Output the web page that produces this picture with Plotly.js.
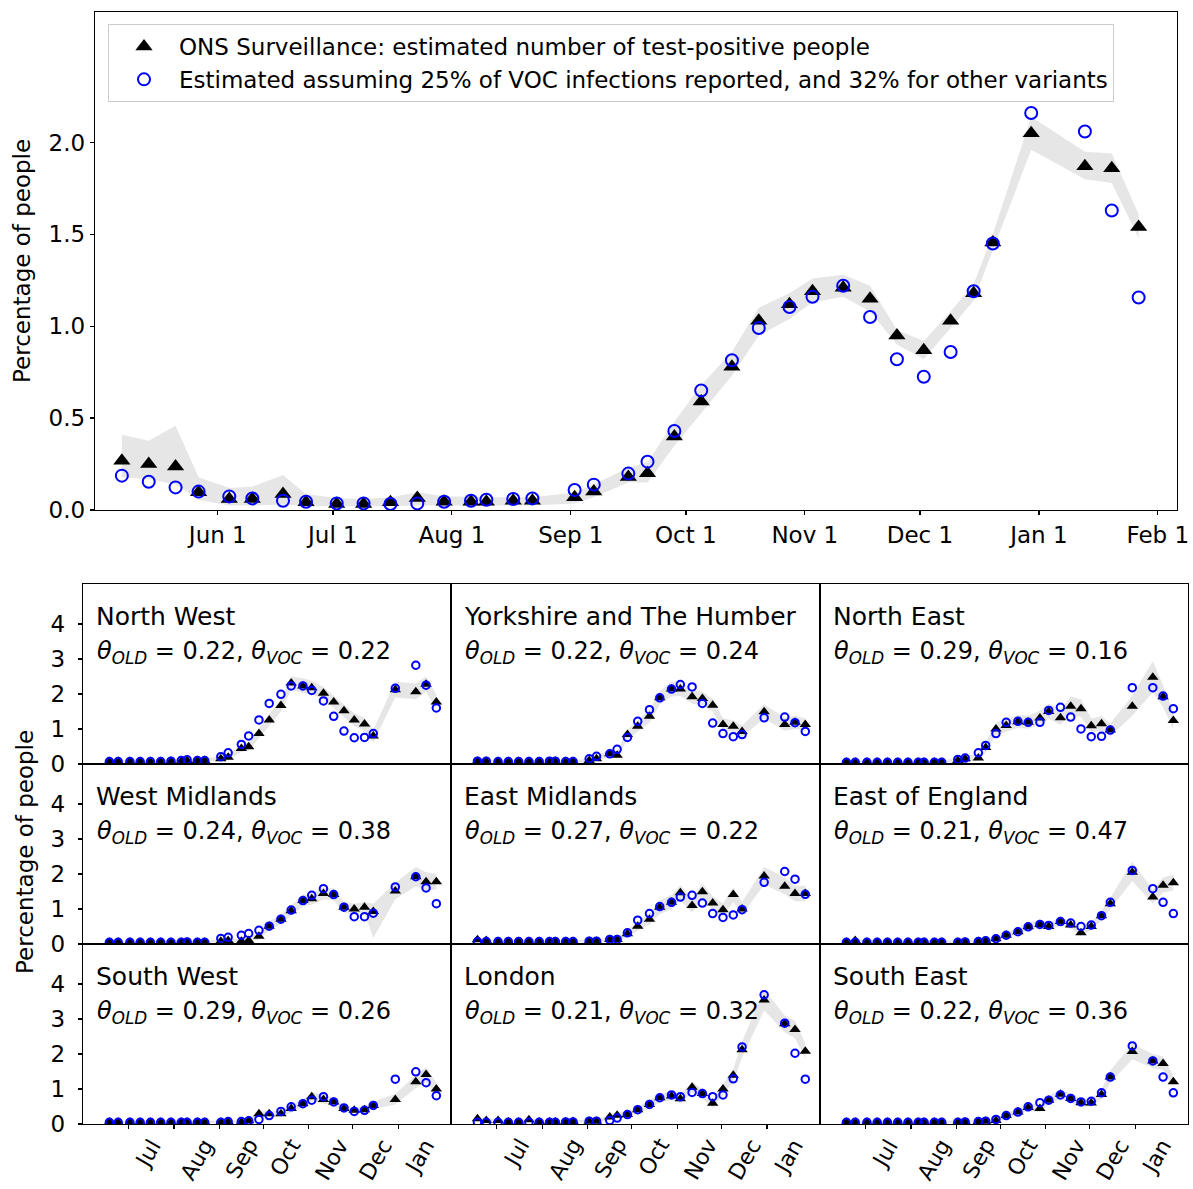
<!DOCTYPE html>
<html><head><meta charset="utf-8">
<script src="https://cdn.plot.ly/plotly-3.0.1.min.js"></script>
<style>body{margin:0;padding:0;background:#fff}#chart{width:1193px;height:1189px}</style>
</head><body><div id="chart"></div>
<script>
// ---------- National (top panel) ----------
const natDates = ["2020-05-07","2020-05-14","2020-05-21","2020-05-27","2020-06-04","2020-06-10","2020-06-18","2020-06-24","2020-07-02","2020-07-09","2020-07-16","2020-07-23","2020-07-30","2020-08-06","2020-08-10","2020-08-17","2020-08-22","2020-09-02","2020-09-07","2020-09-16","2020-09-21","2020-09-28","2020-10-05","2020-10-13","2020-10-20","2020-10-28","2020-11-03","2020-11-11","2020-11-18","2020-11-25","2020-12-02","2020-12-09","2020-12-15","2020-12-20","2020-12-30","2021-01-13","2021-01-20","2021-01-27"];
const natONS = [0.268,0.25,0.237,0.096,0.06,0.06,0.087,0.042,0.033,0.033,0.042,0.065,0.045,0.045,0.045,0.05,0.05,0.069,0.1,0.18,0.2,0.40,0.59,0.78,1.03,1.12,1.19,1.21,1.15,0.95,0.87,1.03,1.18,1.455,2.05,1.87,1.86,1.54];
const natEst = [0.187,0.154,0.123,0.10,0.074,0.063,0.05,0.045,0.036,0.036,0.033,0.036,0.045,0.05,0.056,0.06,0.063,0.109,0.138,0.198,0.263,0.43,0.65,0.815,0.99,1.105,1.16,1.22,1.05,0.82,0.725,0.86,1.19,1.45,2.16,2.06,1.63,1.156];
const natHi = [0.41,0.377,0.458,0.178,0.12,0.127,0.19,0.087,0.065,0.06,0.07,0.096,0.075,0.07,0.07,0.07,0.07,0.095,0.14,0.23,0.26,0.48,0.68,0.86,1.10,1.18,1.26,1.28,1.22,0.98,0.92,1.08,1.23,1.5,2.14,1.95,1.94,1.61];
const natLo = [0.178,0.168,0.14,0.056,0.024,0.024,0.03,0.02,0.02,0.02,0.02,0.025,0.025,0.025,0.025,0.025,0.025,0.036,0.07,0.15,0.15,0.35,0.53,0.73,0.95,1.04,1.13,1.16,1.08,0.90,0.82,0.99,1.14,1.42,1.96,1.80,1.78,1.48];
const topTickVals = ["2020-06-01","2020-07-01","2020-08-01","2020-09-01","2020-10-01","2020-11-01","2020-12-01","2021-01-01","2021-02-01"];
const topTickText = ["Jun 1","Jul 1","Aug 1","Sep 1","Oct 1","Nov 1","Dec 1","Jan 1","Feb 1"];

// ---------- Regional panels ----------
const regDates = ["2020-06-18","2020-06-24","2020-07-02","2020-07-09","2020-07-16","2020-07-23","2020-07-30","2020-08-06","2020-08-10","2020-08-17","2020-08-22","2020-09-02","2020-09-07","2020-09-16","2020-09-21","2020-09-28","2020-10-05","2020-10-13","2020-10-20","2020-10-28","2020-11-03","2020-11-11","2020-11-18","2020-11-25","2020-12-02","2020-12-09","2020-12-15","2020-12-30","2021-01-13","2021-01-20","2021-01-27"];
const monthTickVals = ["2020-07-01","2020-08-01","2020-09-01","2020-10-01","2020-11-01","2020-12-01","2021-01-01"];
const monthTickText = ["Jul","Aug","Sep","Oct","Nov","Dec","Jan"];

const regionNames = ["North West","Yorkshire and The Humber","North East","West Midlands","East Midlands","East of England","South West","London","South East"];
const thetaOld = ["0.22","0.22","0.29","0.24","0.27","0.21","0.29","0.21","0.22"];
const thetaVoc = ["0.22","0.24","0.16","0.38","0.22","0.47","0.26","0.32","0.36"];

const nwONS = [0.07,0.07,0.07,0.07,0.07,0.07,0.08,0.08,0.1,0.1,0.1,0.15,0.19,0.44,0.49,0.87,1.26,1.67,2.31,2.23,2.18,2.02,1.77,1.52,1.26,1.14,0.8,2.12,2.06,2.28,1.77];
const nwEst = [0.07,0.07,0.07,0.07,0.07,0.07,0.08,0.1,0.12,0.1,0.1,0.21,0.32,0.56,0.8,1.26,1.73,1.99,2.23,2.23,2.1,1.8,1.36,0.94,0.75,0.76,0.87,2.16,2.82,2.25,1.6];
const nwHi = [0.12,0.11,0.11,0.11,0.11,0.11,0.12,0.13,0.15,0.15,0.16,0.22,0.28,0.55,0.62,1.0,1.42,1.85,2.5,2.45,2.38,2.2,1.95,1.7,1.45,1.32,0.98,2.35,2.3,2.5,1.98];
const nwLo = [0.03,0.03,0.03,0.03,0.03,0.03,0.04,0.04,0.05,0.05,0.05,0.09,0.12,0.34,0.38,0.74,1.1,1.5,2.12,2.03,2.0,1.85,1.6,1.35,1.08,0.96,0.62,1.9,1.85,2.06,1.56];

const yhONS = [0.08,0.08,0.07,0.07,0.07,0.07,0.07,0.07,0.08,0.07,0.07,0.1,0.15,0.29,0.25,0.84,1.08,1.36,1.89,2.14,2.14,1.92,1.87,1.68,1.13,1.08,0.93,1.49,1.13,1.19,1.13];
const yhEst = [0.08,0.08,0.07,0.07,0.07,0.07,0.07,0.08,0.08,0.07,0.07,0.15,0.22,0.29,0.42,0.76,1.22,1.55,1.89,2.14,2.27,2.2,1.73,1.17,0.87,0.78,0.84,1.32,1.34,1.18,0.93];
const yhHi = [0.12,0.12,0.11,0.11,0.11,0.11,0.11,0.11,0.12,0.11,0.11,0.16,0.22,0.4,0.36,0.98,1.25,1.55,2.08,2.35,2.35,2.12,2.06,1.86,1.3,1.25,1.1,1.7,1.32,1.38,1.3];
const yhLo = [0.04,0.04,0.03,0.03,0.03,0.03,0.03,0.03,0.04,0.03,0.03,0.05,0.09,0.2,0.16,0.7,0.92,1.18,1.7,1.93,1.94,1.72,1.68,1.5,0.96,0.92,0.77,1.3,0.95,1.0,0.96];

const neONS = [0.05,0.05,0.05,0.05,0.05,0.05,0.05,0.05,0.05,0.05,0.05,0.1,0.15,0.17,0.47,1.0,1.1,1.21,1.19,1.31,1.5,1.32,1.65,1.58,1.09,1.15,0.97,1.65,2.48,1.92,1.24];
const neEst = [0.05,0.05,0.05,0.05,0.05,0.05,0.05,0.05,0.05,0.05,0.05,0.13,0.17,0.32,0.53,0.87,1.19,1.22,1.19,1.19,1.53,1.62,1.34,1.0,0.78,0.79,0.97,2.18,2.18,1.94,1.58];
const neHi = [0.09,0.09,0.09,0.09,0.09,0.09,0.09,0.09,0.09,0.09,0.09,0.17,0.24,0.28,0.62,1.18,1.28,1.4,1.38,1.52,1.73,1.55,1.93,1.85,1.3,1.36,1.16,1.95,2.94,2.25,1.5];
const neLo = [0.02,0.02,0.02,0.02,0.02,0.02,0.02,0.02,0.02,0.02,0.02,0.05,0.08,0.09,0.33,0.83,0.92,1.03,1.01,1.12,1.29,1.12,1.4,1.34,0.9,0.95,0.8,1.38,2.05,1.62,1.0];

const wmONS = [0.05,0.05,0.05,0.05,0.05,0.05,0.05,0.05,0.06,0.05,0.05,0.08,0.1,0.08,0.1,0.22,0.51,0.71,0.95,1.24,1.29,1.44,1.41,1.05,1.0,1.05,0.93,1.51,1.92,1.78,1.78];
const wmEst = [0.05,0.05,0.05,0.05,0.05,0.05,0.05,0.05,0.06,0.05,0.05,0.16,0.19,0.25,0.3,0.39,0.51,0.71,0.97,1.24,1.39,1.58,1.41,1.05,0.78,0.78,0.88,1.63,1.92,1.6,1.15];
const wmHi = [0.09,0.09,0.09,0.09,0.09,0.09,0.09,0.09,0.1,0.09,0.09,0.13,0.16,0.14,0.17,0.32,0.64,0.85,1.1,1.4,1.46,1.62,1.58,1.2,1.15,1.2,1.15,1.75,2.2,2.05,2.0];
const wmLo = [0.02,0.02,0.02,0.02,0.02,0.02,0.02,0.02,0.03,0.02,0.02,0.04,0.05,0.04,0.05,0.13,0.39,0.57,0.8,1.08,1.12,1.27,1.24,0.9,0.86,0.9,0.17,1.28,1.65,1.52,1.56];

const emONS = [0.12,0.1,0.07,0.07,0.07,0.07,0.07,0.07,0.07,0.07,0.07,0.08,0.08,0.13,0.13,0.29,0.51,0.71,1.05,1.19,1.46,1.1,1.49,1.17,0.98,1.41,1.0,1.94,1.65,1.44,1.44];
const emEst = [0.07,0.07,0.07,0.07,0.07,0.07,0.07,0.07,0.07,0.07,0.07,0.08,0.08,0.13,0.13,0.32,0.68,0.87,1.07,1.19,1.34,1.39,1.17,0.87,0.76,0.83,0.98,1.76,2.07,1.85,1.42];
const emHi = [0.17,0.14,0.11,0.11,0.11,0.11,0.11,0.11,0.11,0.11,0.11,0.12,0.12,0.19,0.19,0.4,0.65,0.87,1.25,1.4,1.68,1.3,1.72,1.37,1.16,1.62,1.2,2.2,1.9,1.66,1.66];
const emLo = [0.07,0.06,0.03,0.03,0.03,0.03,0.03,0.03,0.03,0.03,0.03,0.04,0.04,0.07,0.07,0.19,0.38,0.55,0.86,0.99,1.24,0.9,1.27,0.97,0.8,1.2,0.82,1.7,1.42,1.22,1.22];

const eeONS = [0.05,0.1,0.05,0.05,0.05,0.05,0.05,0.05,0.05,0.05,0.05,0.05,0.06,0.07,0.09,0.15,0.25,0.35,0.49,0.56,0.5,0.64,0.54,0.32,0.5,0.81,1.15,2.05,1.34,1.68,1.75];
const eeEst = [0.05,0.05,0.05,0.05,0.05,0.05,0.05,0.05,0.05,0.05,0.05,0.05,0.06,0.07,0.09,0.15,0.25,0.35,0.49,0.56,0.53,0.64,0.6,0.5,0.54,0.81,1.19,2.1,1.58,1.19,0.87];
const eeHi = [0.09,0.15,0.09,0.09,0.09,0.09,0.09,0.09,0.09,0.09,0.09,0.09,0.1,0.11,0.14,0.21,0.33,0.44,0.6,0.67,0.61,0.76,0.65,0.42,0.61,0.95,1.32,2.35,1.55,1.9,1.98];
const eeLo = [0.02,0.06,0.02,0.02,0.02,0.02,0.02,0.02,0.02,0.02,0.02,0.02,0.03,0.03,0.05,0.1,0.18,0.27,0.39,0.46,0.4,0.53,0.44,0.23,0.4,0.68,0.99,1.8,1.15,1.47,1.53];

const swONS = [0.05,0.05,0.05,0.05,0.05,0.05,0.05,0.05,0.05,0.05,0.05,0.05,0.06,0.06,0.09,0.29,0.29,0.29,0.44,0.58,0.78,0.7,0.63,0.44,0.39,0.41,0.53,0.7,1.21,1.41,1.0];
const swEst = [0.05,0.05,0.05,0.05,0.05,0.05,0.05,0.05,0.05,0.05,0.05,0.05,0.07,0.07,0.09,0.13,0.24,0.36,0.49,0.58,0.68,0.78,0.63,0.46,0.36,0.39,0.53,1.28,1.49,1.18,0.81];
const swHi = [0.08,0.08,0.08,0.08,0.08,0.08,0.08,0.08,0.08,0.08,0.08,0.08,0.1,0.1,0.14,0.38,0.38,0.38,0.55,0.7,0.92,0.83,0.75,0.54,0.48,0.5,0.64,0.86,1.4,1.62,1.18];
const swLo = [0.02,0.02,0.02,0.02,0.02,0.02,0.02,0.02,0.02,0.02,0.02,0.02,0.03,0.03,0.05,0.2,0.2,0.21,0.34,0.47,0.65,0.58,0.52,0.35,0.3,0.32,0.43,0.56,1.03,1.2,0.83];

const ldONS = [0.15,0.1,0.1,0.06,0.06,0.12,0.06,0.06,0.06,0.06,0.07,0.08,0.08,0.2,0.25,0.27,0.41,0.56,0.75,0.8,0.72,1.05,0.87,0.59,1.0,1.39,2.12,3.54,2.86,2.7,2.08];
const ldEst = [0.05,0.05,0.05,0.05,0.05,0.05,0.05,0.05,0.05,0.06,0.06,0.08,0.08,0.1,0.17,0.27,0.41,0.56,0.75,0.83,0.78,0.9,0.87,0.78,0.83,1.29,2.2,3.69,2.88,2.02,1.28];
const ldHi = [0.22,0.16,0.16,0.1,0.1,0.18,0.1,0.1,0.1,0.1,0.11,0.12,0.12,0.28,0.34,0.36,0.51,0.68,0.88,0.93,0.85,1.2,1.0,0.72,1.15,1.57,2.35,3.85,3.1,2.95,2.3];
const ldLo = [0.08,0.05,0.05,0.02,0.02,0.06,0.02,0.02,0.02,0.02,0.03,0.04,0.04,0.12,0.16,0.18,0.31,0.44,0.62,0.67,0.59,0.9,0.74,0.46,0.85,1.21,1.9,3.25,2.62,2.45,1.86];

const seONS = [0.05,0.05,0.05,0.05,0.05,0.05,0.05,0.05,0.05,0.05,0.05,0.05,0.06,0.07,0.08,0.1,0.24,0.34,0.47,0.44,0.68,0.85,0.73,0.61,0.6,0.84,1.34,2.07,1.8,1.73,1.21];
const seEst = [0.05,0.05,0.05,0.05,0.05,0.05,0.05,0.05,0.05,0.05,0.05,0.05,0.06,0.07,0.08,0.13,0.24,0.34,0.49,0.61,0.68,0.83,0.73,0.63,0.65,0.89,1.34,2.23,1.8,1.34,0.89];
const seHi = [0.08,0.08,0.08,0.08,0.08,0.08,0.08,0.08,0.08,0.08,0.08,0.08,0.1,0.11,0.12,0.16,0.32,0.43,0.58,0.55,0.81,0.99,0.86,0.73,0.72,0.98,1.52,2.3,2.0,1.93,1.38];
const seLo = [0.02,0.02,0.02,0.02,0.02,0.02,0.02,0.02,0.02,0.02,0.02,0.02,0.03,0.04,0.05,0.06,0.17,0.26,0.37,0.34,0.56,0.72,0.61,0.5,0.49,0.71,1.17,1.85,1.6,1.54,1.05];

const regONS = [nwONS, yhONS, neONS, wmONS, emONS, eeONS, swONS, ldONS, seONS];
const regEst = [nwEst, yhEst, neEst, wmEst, emEst, eeEst, swEst, ldEst, seEst];
const regHi = [nwHi, yhHi, neHi, wmHi, emHi, eeHi, swHi, ldHi, seHi];
const regLo = [nwLo, yhLo, neLo, wmLo, emLo, eeLo, swLo, ldLo, seLo];

// ---------- Build ----------
const W = 1193, H = 1189;
const FONT = "DejaVu Sans";
const BAND = "#e6e6e6";
const FS = 23;
const px = v => v / W;
const py = v => 1 - v / H;
const rev = a => a.slice().reverse();

const traces = [];
traces.push({x: natDates.concat(rev(natDates)), y: natHi.concat(rev(natLo)), type: "scatter", mode: "lines",
  fill: "toself", fillcolor: BAND, line: {width: 0, color: BAND}, hoverinfo: "skip", showlegend: false, xaxis: "x", yaxis: "y"});
traces.push({x: natDates, y: natONS, type: "scatter", mode: "markers", name: "ONS Surveillance: estimated number of test-positive people",
  marker: {symbol: "triangle-up", size: 15, color: "black"}, xaxis: "x", yaxis: "y"});
traces.push({x: natDates, y: natEst, type: "scatter", mode: "markers", name: "Estimated assuming 25% of VOC infections reported, and 32% for other variants",
  marker: {symbol: "circle-open", size: 12, color: "#0000ff", line: {width: 2, color: "#0000ff"}}, xaxis: "x", yaxis: "y"});

const axisBase = {showline: true, mirror: true, linecolor: "black", linewidth: 1.3, showgrid: false, zeroline: false,
  ticklen: 4, tickwidth: 1.3, tickcolor: "black", tickfont: {family: FONT, size: FS, color: "black"}};

const layout = {
  width: W, height: H, margin: {l: 0, r: 0, t: 0, b: 0}, paper_bgcolor: "white", plot_bgcolor: "white",
  font: {family: FONT, color: "black"},
  showlegend: true,
  legend: {x: px(108), y: py(24), xanchor: "left", yanchor: "top", bordercolor: "#cccccc", borderwidth: 1,
    bgcolor: "rgba(255,255,255,0.8)", font: {family: FONT, size: FS, color: "black"}, itemwidth: 60, tracegroupgap: 0},
  xaxis: Object.assign({}, axisBase, {domain: [px(95), px(1177)], anchor: "y", type: "date",
    range: ["2020-04-30", "2021-02-06"], tickvals: topTickVals, ticktext: topTickText, ticks: "outside"}),
  yaxis: Object.assign({}, axisBase, {domain: [py(510), py(12)], anchor: "x", range: [0, 2.71],
    tickvals: [0, 0.5, 1.0, 1.5, 2.0], tickformat: ".1f", ticks: "outside"}),
  annotations: [
    {text: "Percentage of people", xref: "paper", yref: "paper", x: px(22), y: py(261), showarrow: false,
      textangle: -90, font: {family: FONT, size: FS, color: "black"}, xanchor: "center", yanchor: "middle"},
    {text: "Percentage of people", xref: "paper", yref: "paper", x: px(25), y: py(852), showarrow: false,
      textangle: -90, font: {family: FONT, size: FS, color: "black"}, xanchor: "center", yanchor: "middle"}
  ]
};

const colEdges = [83, 451, 820, 1188];
const rowEdges = [584, 764, 944, 1124];

for (let i = 0; i < 9; i++) {
  const k = i + 2, r = Math.floor(i / 3), c = i % 3;
  const xa = "x" + k, ya = "y" + k;
  traces.push({x: regDates.concat(rev(regDates)), y: regHi[i].concat(rev(regLo[i])), type: "scatter", mode: "lines",
    fill: "toself", fillcolor: BAND, line: {width: 0, color: BAND}, hoverinfo: "skip", showlegend: false, xaxis: xa, yaxis: ya});
  traces.push({x: regDates, y: regONS[i], type: "scatter", mode: "markers", showlegend: false,
    marker: {symbol: "triangle-up", size: 10, color: "black"}, xaxis: xa, yaxis: ya});
  traces.push({x: regDates, y: regEst[i], type: "scatter", mode: "markers", showlegend: false,
    marker: {symbol: "circle-open", size: 7.5, color: "#0000ff", line: {width: 2, color: "#0000ff"}}, xaxis: xa, yaxis: ya});
  layout["xaxis" + k] = Object.assign({}, axisBase, {domain: [px(colEdges[c]), px(colEdges[c + 1])], anchor: ya, type: "date",
    range: ["2020-05-31", "2021-02-06"], tickvals: monthTickVals, ticktext: monthTickText,
    ticks: r === 2 ? "outside" : "", showticklabels: false});
  layout["yaxis" + k] = Object.assign({}, axisBase, {domain: [py(rowEdges[r + 1]), py(rowEdges[r])], anchor: xa,
    range: [0, 5.14], tickvals: [0, 1, 2, 3, 4], ticks: c === 0 ? "outside" : "", showticklabels: c === 0,
    ticklabelstandoff: 8});
  layout.annotations.push({text: regionNames[i], xref: xa + " domain", yref: ya + " domain", x: 0.03, y: 0.817,
    xanchor: "left", yanchor: "middle", showarrow: false, font: {family: FONT, size: 25, color: "black"}});
  layout.annotations.push({text: "<i>θ</i><sub><i>OLD</i></sub> = " + thetaOld[i] + ", <i>θ</i><sub><i>VOC</i></sub> = " + thetaVoc[i],
    xref: xa + " domain", yref: ya + " domain", x: 0.033, y: 0.62, xanchor: "left", yanchor: "middle", showarrow: false,
    font: {family: FONT, size: 24, color: "black"}});
  if (r === 2) {
    // rotated month labels hanging to the right of each tick (as in the reference)
    monthTickVals.forEach((tv, j) => {
      layout.annotations.push({text: monthTickText[j], xref: xa, yref: "paper", x: tv, y: py(1133),
        xanchor: "left", yanchor: "top", textangle: -60, showarrow: false, borderpad: 0,
        font: {family: FONT, size: 22, color: "black"}});
    });
  }
}

Plotly.newPlot("chart", traces, layout, {displayModeBar: false, staticPlot: true});
</script></body></html>
